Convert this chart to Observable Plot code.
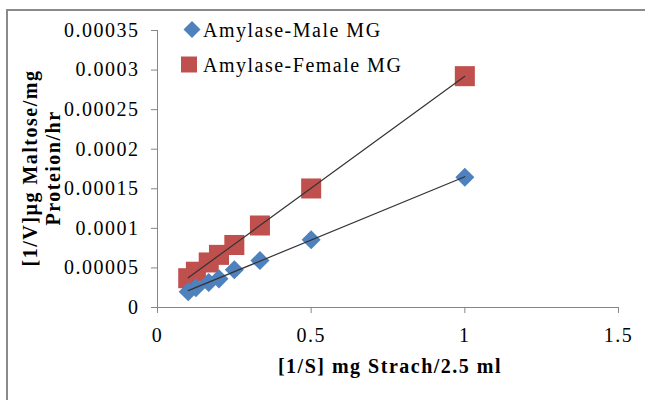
<!DOCTYPE html>
<html>
<head>
<meta charset="utf-8">
<script src="https://cdn.jsdelivr.net/npm/d3@7"></script>
<script src="https://cdn.jsdelivr.net/npm/@observablehq/plot@0.6"></script>
<style>
  html, body { margin: 0; padding: 0; background: #fff; overflow: hidden; }
  #wrap { position: relative; width: 645px; height: 400px; }
  #frame { position: absolute; left: 6px; top: 9px; width: 720px; height: 460px;
           border: 2px solid #8a8a8a; box-sizing: border-box; }
  #chart { position: absolute; left: 0; top: 0; }
  #chart svg text { letter-spacing: 1.5px; }
</style>
</head>
<body>
<div id="wrap"><div id="frame"></div><div id="chart"></div></div>
<script>
// Lineweaver–Burk data: 1/S against 1/V for the two amylase series
const substrateInv = [0.1, 0.125, 1 / 6, 0.2, 0.25, 1 / 3, 0.5, 1];
const maleRate   = [0.0000200, 0.0000250, 0.0000315, 0.0000362, 0.0000477, 0.0000593, 0.0000857, 0.0001646];
const femaleRate = [0.0000370, 0.0000452, 0.0000569, 0.0000665, 0.0000790, 0.0001036, 0.0001504, 0.0002923];
const seriesNames = ["Amylase-Male MG", "Amylase-Female MG"];

const xTicks = [0, 0.5, 1, 1.5];
const xTickLabels = ["0", "0.5", "1", "1.5"];
const yTicks = [0, 0.00005, 0.0001, 0.00015, 0.0002, 0.00025, 0.0003, 0.00035];
const yTickLabels = ["0", "0.00005", "0.0001", "0.00015", "0.0002", "0.00025", "0.0003", "0.00035"];

const xTitle = "[1/S] mg Strach/2.5 ml";
const yTitleLines = ["[1/V]µg Maltose/mg", "Proteion/hr"];

const maleColor = "#4F81BD";
const femaleColor = "#C0504D";
const axisGray = "#868686";
const fontFamily = "'Liberation Serif', 'Times New Roman', serif";

const male = substrateInv.map((x, i) => ({x, y: maleRate[i]}));
const female = substrateInv.map((x, i) => ({x, y: femaleRate[i]}));

const plot = Plot.plot({
  width: 645,
  height: 400,
  marginLeft: 157,
  marginRight: 27,
  marginTop: 30,
  marginBottom: 93,
  x: {domain: [0, 1.5]},
  y: {domain: [0, 0.00035]},
  style: {fontFamily, fontSize: "20px", color: "#000", background: "transparent"},
  marks: [
    Plot.ruleX([0], {stroke: axisGray}),
    Plot.ruleY([0], {stroke: axisGray}),
    Plot.axisY(yTicks, {
      tickSize: 6, tickPadding: 12, stroke: axisGray, fill: "#000", fontSize: 20, label: null,
      tickFormat: d => yTickLabels[yTicks.indexOf(d)]
    }),
    Plot.axisX(xTicks, {
      tickSize: 6, tickPadding: 14, stroke: axisGray, fill: "#000", fontSize: 20, label: null,
      tickFormat: d => xTickLabels[xTicks.indexOf(d)]
    }),
    Plot.dot(female, {x: "x", y: "y", symbol: "square", r: 11.3, fill: femaleColor, stroke: null}),
    Plot.dot(male, {x: "x", y: "y", symbol: "diamond2", r: 8.6, fill: maleColor, stroke: null}),
    Plot.linearRegressionY(female, {x: "x", y: "y", stroke: "#333", strokeWidth: 1.2, ci: 0}),
    Plot.linearRegressionY(male, {x: "x", y: "y", stroke: "#333", strokeWidth: 1.2, ci: 0})
  ]
});

const svg = d3.select(plot);

// axis titles
svg.append("text")
  .attr("x", 390).attr("y", 373)
  .attr("text-anchor", "middle")
  .attr("font-weight", "bold")
  .attr("font-size", 20)
  .text(xTitle);

const yTitle = svg.append("g").attr("font-weight", "bold").attr("font-size", 20);
yTitleLines.forEach((line, i) => {
  yTitle.append("text")
    .attr("transform", `translate(${37 + i * 23},168) rotate(-90)`)
    .attr("text-anchor", "middle")
    .text(line);
});

// legend in the upper-left corner of the plot area
const legend = svg.append("g").attr("font-size", 20).attr("text-anchor", "start");
const legendItems = [
  {name: seriesNames[0], color: maleColor, symbol: d3.symbolDiamond2, size: 184, sx: 192, sy: 29.5, ty: 37},
  {name: seriesNames[1], color: femaleColor, symbol: d3.symbolSquare, size: 256, sx: 189, sy: 64.5, ty: 71.5}
];
legendItems.forEach(item => {
  legend.append("path")
    .attr("transform", `translate(${item.sx},${item.sy})`)
    .attr("d", d3.symbol(item.symbol, item.size)())
    .attr("fill", item.color);
  legend.append("text")
    .attr("x", 203).attr("y", item.ty)
    .attr("text-anchor", "start")
    .text(item.name);
});

document.getElementById("chart").appendChild(plot);
</script>
</body>
</html>
